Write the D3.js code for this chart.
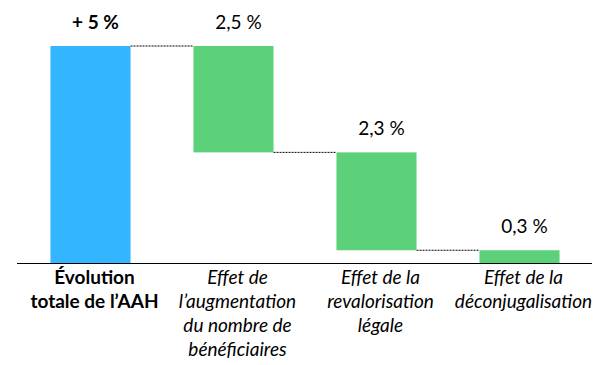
<!DOCTYPE html>
<html>
<head>
<meta charset="utf-8">
<script src="https://cdn.jsdelivr.net/npm/d3@7"></script>
<style>
body { margin: 0; background: #fff; }
svg text { font-family: Lato, "Open Sans", sans-serif; fill: #000; }
</style>
</head>
<body>
<svg width="611" height="365"></svg>
<script>
const categories = ["total", "benef", "reval", "deconj"]
const catLabels = [
  ["Évolution", "totale de l’AAH"],
  ["Effet de", "l’augmentation", "du nombre de", "bénéficiaires"],
  ["Effet de la", "revalorisation", "légale"],
  ["Effet de la", "déconjugalisation"]
]
const values = [5.1, 2.5, 2.3, 0.3]
const valueLabels = ["+ 5 %", "2,5 %", "2,3 %", "0,3 %"]
const isTotal = [true, false, false, false]

const svg = d3.select("svg"),
margin = {top: 46, right: 20, bottom: 102, left: 19},
width = +svg.attr("width") - margin.left - margin.right,
height = +svg.attr("height") - margin.top - margin.bottom

const g = svg.append("g")
.attr("transform", `translate(${margin.left}, ${margin.top})`)

const x = d3.scaleBand()
.domain(categories)
.range([0, width])
.paddingInner(0.44)
.paddingOuter(0.22)

const y = d3.scaleLinear()
.domain([0, values[0]])
.range([height, 0])

// waterfall: total from 0, then each effect stacked down from the total
let level = values[0]
const data = categories.map((c, i) => {
  let hi, lo
  if (isTotal[i]) { hi = values[i]; lo = 0 }
  else { hi = level; lo = level - values[i]; level = lo }
  return {c, hi, lo, label: valueLabels[i], total: isTotal[i], lines: catLabels[i]}
})

// connectors
g.selectAll(".conn")
.data(data.slice(1))
.enter()
.append("line")
.attr("x1", (d, i) => x(data[i].c) + x.bandwidth())
.attr("x2", d => x(d.c))
.attr("y1", (d, i) => y(data[i].total ? data[i].hi : data[i].lo))
.attr("y2", (d, i) => y(data[i].total ? data[i].hi : data[i].lo))
.attr("stroke", "#000")
.attr("stroke-width", 1)
.attr("stroke-dasharray", "2,1")

g.selectAll(".bar")
.data(data)
.enter()
.append("rect")
.attr("x", d => x(d.c))
.attr("y", d => y(d.hi))
.attr("width", x.bandwidth())
.attr("height", d => y(d.lo) - y(d.hi))
.attr("fill", d => d.total ? "#33b5ff" : "#5cd17a")

g.selectAll(".vlab")
.data(data)
.enter()
.append("text")
.attr("x", d => x(d.c) + x.bandwidth() / 2 + 5)
.attr("y", d => y(d.hi) - 17)
.attr("text-anchor", "middle")
.attr("font-size", 19)
.attr("font-weight", d => d.total ? "bold" : "normal")
.text(d => d.label)

g.append("line")
.attr("x1", -2)
.attr("x2", width + 1)
.attr("y1", height + 0.5)
.attr("y2", height + 0.5)
.attr("stroke", "#000")
.attr("stroke-width", 1)

const cl = g.selectAll(".clab")
.data(data)
.enter()
.append("text")
.attr("text-anchor", "middle")
.attr("font-size", 19)
.attr("font-weight", d => d.total ? "bold" : "normal")
.attr("font-style", d => d.total ? "normal" : "italic")

cl.selectAll("tspan")
.data(d => d.lines.map(l => ({l, c: d.c})))
.enter()
.append("tspan")
.attr("x", d => x(d.c) + x.bandwidth() / 2 + 4)
.attr("y", (d, i) => height + 21 + i * 24)
.text(d => d.l)
</script>
</body>
</html>
